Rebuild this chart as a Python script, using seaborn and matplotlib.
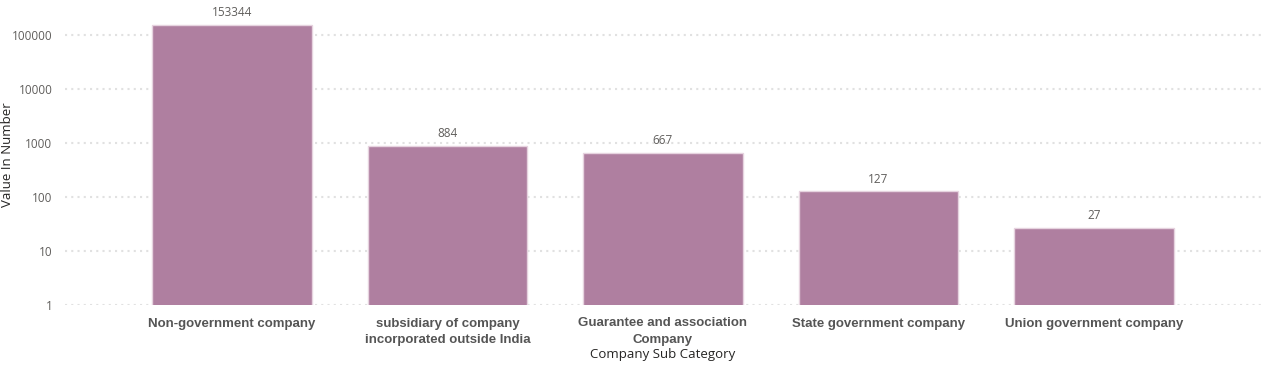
import matplotlib
matplotlib.use("Agg")
import matplotlib.pyplot as plt
import matplotlib.ticker as mticker
import seaborn as sns
import pandas as pd

categories = [
    "Non-government company",
    "subsidiary of company\nincorporated outside India",
    "Guarantee and association\nCompany",
    "State government company",
    "Union government company",
]
values = [153344, 884, 667, 127, 27]
y_ticks = [1, 10, 100, 1000, 10000, 100000]

df = pd.DataFrame({"cat": categories, "val": values})

sns.set_theme(style="white")
plt.rcParams["font.family"] = ["Open Sans", "DejaVu Sans"]

fig = plt.figure(figsize=(12.62, 3.68), dpi=100)
ax = fig.add_axes([65 / 1262, 63 / 368, 1196 / 1262, 300 / 368])

sns.barplot(data=df, x="cat", y="val", color="#AF7FA0", saturation=1,
            width=0.74, edgecolor="#E6D3DF", linewidth=1, ax=ax, zorder=3)

ax.set_yscale("log")
ax.set_ylim(1, 3.6e5)
ax.set_xlim(-0.775, 4.775)
ax.set_yticks(y_ticks)
ax.yaxis.set_major_formatter(mticker.FuncFormatter(lambda v, p: f"{int(round(v))}"))
ax.yaxis.set_minor_locator(mticker.NullLocator())
ax.grid(axis="y", color="#E1E1E1", linestyle=(0, (1, 2)), linewidth=1.5, zorder=0)
ax.grid(axis="x", visible=False)
for s in ax.spines.values():
    s.set_visible(False)
ax.tick_params(axis="both", length=0)
ax.tick_params(axis="y", labelsize=8.5, labelcolor="#605E5C", pad=9)
ax.tick_params(axis="x", pad=9)
ax.set_xticks(range(len(categories)))
ax.set_xticklabels(categories, fontfamily=["Liberation Sans", "DejaVu Sans"],
                   fontweight="bold", fontsize=9.5, color="#555555",
                   linespacing=1.45)

ax.bar_label(ax.containers[0], labels=[str(v) for v in values], padding=4,
             fontsize=8.5, color="#605E5C")

ax.set_xlabel("Company Sub Category", fontsize=9.5, color="#252423", labelpad=2)
ax.set_ylabel("Value In Number", fontsize=9.5, color="#252423")
ax.yaxis.set_label_coords(-51 / 1196, 0.5)

fig.savefig("out.png", dpi=100)
